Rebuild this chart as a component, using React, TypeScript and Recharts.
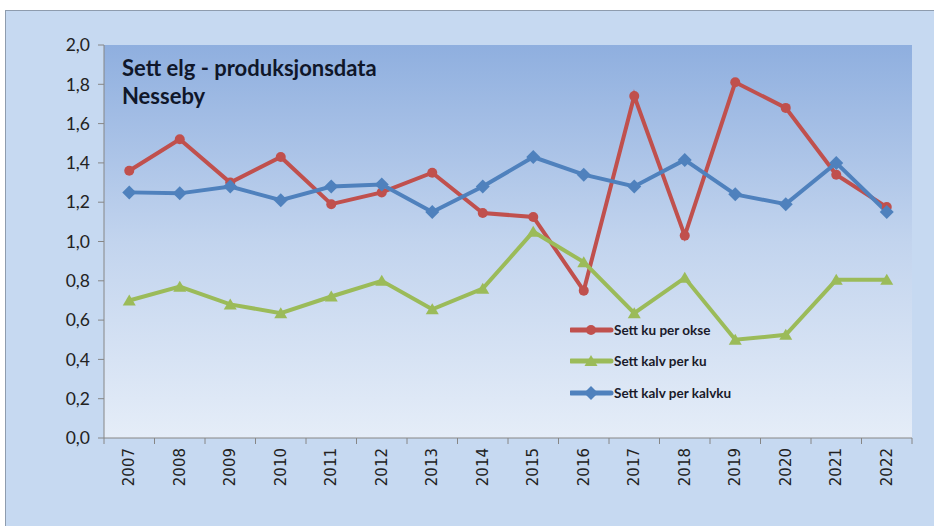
import { LineChart, Line, XAxis, YAxis, CartesianGrid, Legend } from 'recharts';

const years = [2007, 2008, 2009, 2010, 2011, 2012, 2013, 2014, 2015, 2016, 2017, 2018, 2019, 2020, 2021, 2022];
const kuPerOkse = [1.36, 1.52, 1.3, 1.43, 1.19, 1.25, 1.35, 1.145, 1.125, 0.75, 1.74, 1.03, 1.81, 1.68, 1.34, 1.175];
const kalvPerKu = [0.7, 0.77, 0.68, 0.635, 0.72, 0.8, 0.655, 0.76, 1.05, 0.895, 0.635, 0.815, 0.5, 0.525, 0.805, 0.805];
const kalvPerKalvku = [1.25, 1.245, 1.28, 1.21, 1.28, 1.29, 1.15, 1.28, 1.43, 1.34, 1.28, 1.415, 1.24, 1.19, 1.4, 1.15];
const yTicks = [0, 0.2, 0.4, 0.6, 0.8, 1.0, 1.2, 1.4, 1.6, 1.8, 2.0];

const data = years.map((year, i) => ({
  year,
  ku: kuPerOkse[i],
  kalv: kalvPerKu[i],
  kalvku: kalvPerKalvku[i],
}));

// whole years carry labels, half years carry the Excel-style tick marks between categories
const xTicks = [...years.map((y) => y - 0.5), years[years.length - 1] + 0.5, ...years].sort((a, b) => a - b);

const RED = '#c0504d';
const GREEN = '#9bbb59';
const BLUE = '#4f81bd';
const AXIS = '#868686';

const seriesOrder = ['ku', 'kalv', 'kalvku'];
const kinds: Record<string, string> = { ku: 'circle', kalv: 'triangle', kalvku: 'diamond' };

function Marker({ kind, cx, cy, color }: { kind: string; cx: number; cy: number; color: string }) {
  if (cx == null || cy == null) return null;
  if (kind === 'circle') return <circle cx={cx} cy={cy} r={5} fill={color} />;
  if (kind === 'diamond')
    return <polygon points={`${cx},${cy - 7} ${cx + 7},${cy} ${cx},${cy + 7} ${cx - 7},${cy}`} fill={color} />;
  return <polygon points={`${cx},${cy - 6} ${cx + 6.5},${cy + 5} ${cx - 6.5},${cy + 5}`} fill={color} />;
}

function YearTick(props: any) {
  const { x, y, payload } = props;
  const v = payload.value;
  if (!Number.isInteger(v)) return <line x1={x} x2={x} y1={y} y2={y + 6} stroke={AXIS} />;
  return (
    <text
      x={x}
      y={y + 10}
      transform={`rotate(-90 ${x} ${y + 10})`}
      textAnchor="end"
      dominantBaseline="central"
      fontFamily="'DejaVu Sans', sans-serif"
      fontSize={15}
      fill="#222"
    >
      {v}
    </text>
  );
}

function LegendBox(props: any) {
  const items = [...(props.payload || [])].sort(
    (a: any, b: any) => seriesOrder.indexOf(a.dataKey) - seriesOrder.indexOf(b.dataKey)
  );
  return (
    <div>
      {items.map((p: any) => (
        <div key={p.value} style={{ display: 'flex', alignItems: 'center', height: 31.5 }}>
          <svg width={44} height={14}>
            <line x1={1} x2={41} y1={7} y2={7} stroke={p.color} strokeWidth={5} strokeLinecap="round" />
            <Marker kind={kinds[p.dataKey]} cx={21} cy={7} color={p.color} />
          </svg>
          <span style={{ fontFamily: 'Lato, sans-serif', fontWeight: 700, fontSize: 13.5, color: '#1a1a2a' }}>
            {p.value}
          </span>
        </div>
      ))}
    </div>
  );
}

export default function App() {
  return (
    <div style={{ position: 'absolute', left: 0, top: 0, width: 934, height: 526, background: '#fff', overflow: 'hidden' }}>
      <div
        style={{
          position: 'absolute',
          left: 5,
          top: 10,
          width: 940,
          height: 530,
          background: '#c6d9f1',
          border: '1px solid #8e9cae',
        }}
      />
      <div style={{ position: 'absolute', left: 0, top: 0 }}>
        <LineChart width={934} height={526} data={data} margin={{ top: 45, right: 22, bottom: 0, left: 0 }}>
          <defs>
            <linearGradient id="plotBg" x1="0" y1="0" x2="0" y2="1">
              <stop offset="0%" stopColor="#8fafdf" />
              <stop offset="50%" stopColor="#c2d4ee" />
              <stop offset="100%" stopColor="#e5edf8" />
            </linearGradient>
          </defs>
          <CartesianGrid horizontal={false} vertical={false} fill="url(#plotBg)" fillOpacity={1} />
          <XAxis
            dataKey="year"
            type="number"
            domain={[2006.5, 2022.5]}
            ticks={xTicks}
            interval={0}
            tick={<YearTick />}
            tickLine={false}
            tickSize={0}
            tickMargin={0}
            axisLine={{ stroke: AXIS }}
            height={88}
          />
          <YAxis
            domain={[0, 2]}
            ticks={yTicks}
            interval={0}
            width={104}
            tickFormatter={(v: number) => v.toFixed(1).replace('.', ',')}
            tick={{ fill: '#222', fontSize: 17.5, fontFamily: 'Lato, sans-serif' }}
            tickLine={{ stroke: AXIS }}
            tickSize={6}
            tickMargin={8}
            axisLine={{ stroke: AXIS }}
          />
          <Legend
            layout="vertical"
            align="center"
            verticalAlign="middle"
            content={<LegendBox />}
            wrapperStyle={{ position: 'absolute', left: 570, top: 314, width: 220, bottom: 'auto', right: 'auto' }}
          />
          <Line
            dataKey="ku"
            name="Sett ku per okse"
            stroke={RED}
            strokeWidth={4}
            dot={(p: any) => <Marker key={`r${p.index}`} kind="circle" cx={p.cx} cy={p.cy} color={RED} />}
            activeDot={false}
            isAnimationActive={false}
          />
          <Line
            dataKey="kalv"
            name="Sett kalv per ku"
            stroke={GREEN}
            strokeWidth={4}
            dot={(p: any) => <Marker key={`g${p.index}`} kind="triangle" cx={p.cx} cy={p.cy} color={GREEN} />}
            activeDot={false}
            isAnimationActive={false}
          />
          <Line
            dataKey="kalvku"
            name="Sett kalv per kalvku"
            stroke={BLUE}
            strokeWidth={4}
            dot={(p: any) => <Marker key={`b${p.index}`} kind="diamond" cx={p.cx} cy={p.cy} color={BLUE} />}
            activeDot={false}
            isAnimationActive={false}
          />
        </LineChart>
      </div>
      <div
        style={{
          position: 'absolute',
          left: 122,
          top: 54,
          fontFamily: 'Lato, sans-serif',
          fontWeight: 700,
          fontSize: 22,
          lineHeight: '28px',
          color: '#10172a',
        }}
      >
        Sett elg - produksjonsdata
        <br />
        Nesseby
      </div>
    </div>
  );
}
